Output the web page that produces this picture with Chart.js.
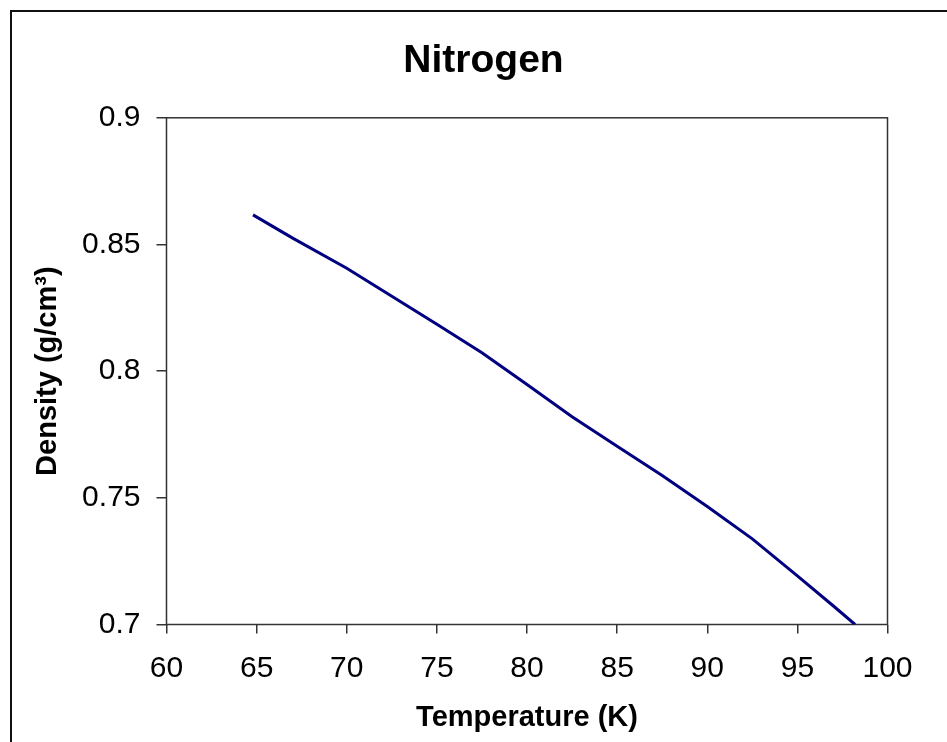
<!DOCTYPE html>
<html lang="en">
<head>
    <meta charset="UTF-8">
    <title>Nitrogen</title>
    <style>
        body {
            margin: 0;
            padding: 0;
            background: #fff;
            overflow: hidden;
        }

        #frame {
            position: absolute;
            left: 10px;
            top: 10px;
            width: 2000px;
            height: 2000px;
            border-left: 2px solid #111;
            border-top: 2px solid #111;
        }

        #chart {
            position: absolute;
            left: 0;
            top: 0;
        }
    </style>
</head>
<body>
    <div id="frame"></div>
    <canvas id="chart" width="947" height="742"></canvas>

    <script src="https://cdn.jsdelivr.net/npm/chart.js"></script>
    <script>
        // values
        const temperature = [64.8, 67, 70, 72.5, 75, 77.5, 80, 82.5, 85, 87.5, 90, 92.5, 95, 97, 98.2];
        const density = [0.8617, 0.8525, 0.8406, 0.8296, 0.8185, 0.8073, 0.7947, 0.7820, 0.7704, 0.7588, 0.7466, 0.7338, 0.7192, 0.7073, 0.7000];
        const xTicks = [60, 65, 70, 75, 80, 85, 90, 95, 100];
        const yTicks = [0.7, 0.75, 0.8, 0.85, 0.9];

        const font = "'Liberation Sans', Arial, sans-serif";

        // box around the plot area, like Excel
        const plotBorder = {
            id: 'plotBorder',
            beforeDatasetsDraw(chart) {
                const a = chart.chartArea;
                const ctx = chart.ctx;
                ctx.save();
                ctx.strokeStyle = '#333';
                ctx.lineWidth = 1.5;
                ctx.strokeRect(a.left, a.top, a.right - a.left, a.bottom - a.top);
                ctx.restore();
            }
        };

        new Chart(document.getElementById('chart'), {
            type: 'line',
            data: {
                datasets: [{
                    data: temperature.map((t, i) => ({ x: t, y: density[i] })),
                    borderColor: '#000080',
                    borderWidth: 3,
                    pointRadius: 0,
                    tension: 0,
                    fill: false
                }]
            },
            options: {
                responsive: false,
                animation: false,
                devicePixelRatio: 1,
                layout: { padding: { left: 20, right: 0, top: 0, bottom: 0 } },
                plugins: {
                    legend: { display: false },
                    tooltip: { enabled: false },
                    title: {
                        display: true,
                        text: 'Nitrogen',
                        color: '#000',
                        font: { family: font, size: 39, weight: 'bold' },
                        padding: { top: 38, bottom: 33 }
                    }
                },
                scales: {
                    x: {
                        type: 'linear',
                        min: 60,
                        max: 100,
                        afterBuildTicks: s => { s.ticks = xTicks.map(v => ({ value: v })); },
                        afterFit: s => { s.height = 117.5; },
                        border: { display: false },
                        grid: { drawOnChartArea: false, tickLength: 9, color: '#333', lineWidth: 1.5 },
                        ticks: {
                            color: '#000',
                            padding: 17,
                            maxRotation: 0,
                            font: { family: font, size: 30 },
                            callback: v => String(v)
                        },
                        title: {
                            display: true,
                            text: 'Temperature (K)',
                            color: '#000',
                            font: { family: font, size: 29, weight: 'bold' },
                            padding: { top: 8, bottom: 7 }
                        }
                    },
                    y: {
                        min: 0.7,
                        max: 0.9,
                        afterBuildTicks: s => { s.ticks = yTicks.map(v => ({ value: v })); },
                        afterFit: s => { s.width = 146.5; },
                        border: { display: false },
                        grid: { drawOnChartArea: false, tickLength: 10, color: '#333', lineWidth: 1.5 },
                        ticks: {
                            color: '#000',
                            padding: 16,
                            font: { family: font, size: 30 },
                            callback: v => String(+v.toFixed(2))
                        },
                        title: {
                            display: true,
                            text: 'Density (g/cm³)',
                            color: '#000',
                            font: { family: font, size: 29, weight: 'bold' },
                            padding: { top: 11, bottom: 0 }
                        }
                    },
                    // empty right axis, only keeps room so the plot ends where Excel put it
                    y2: {
                        position: 'right',
                        display: true,
                        grid: { display: false },
                        border: { display: false },
                        ticks: { display: false },
                        afterFit: s => { s.width = 59.5; }
                    }
                }
            },
            plugins: [plotBorder]
        });
    </script>
</body>
</html>
